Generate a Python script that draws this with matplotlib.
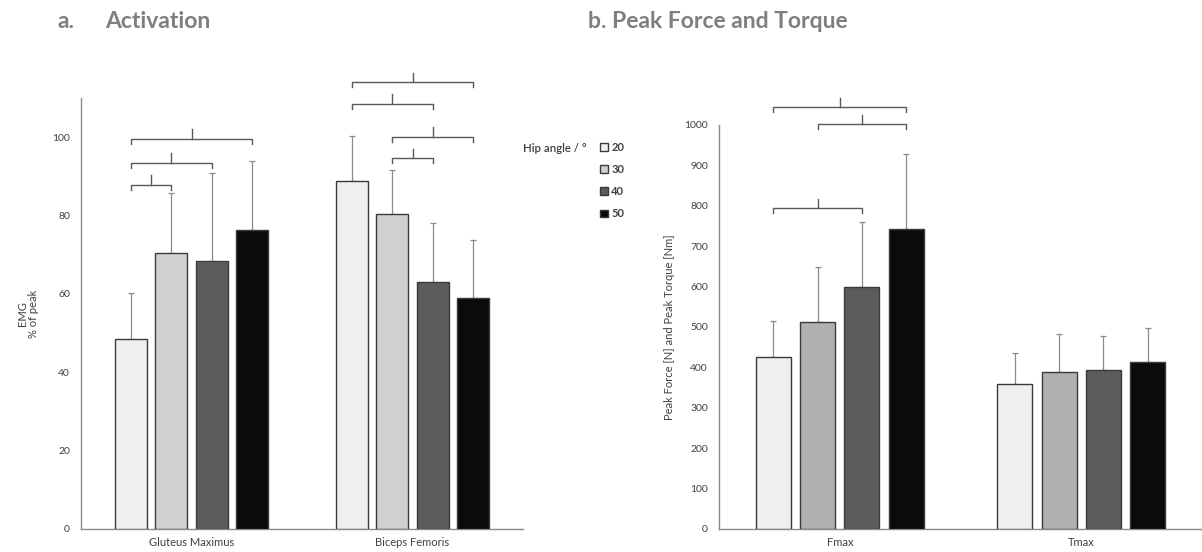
import matplotlib
matplotlib.use("Agg")
import matplotlib.pyplot as plt
import numpy as np

plt.rcParams['font.family'] = ['Lato', 'DejaVu Sans']

# ---- data ----
angles = ["20", "30", "40", "50"]
muscles = ["Gluteus Maximus", "Biceps Femoris"]
emg_gm = [48.5, 70.4, 68.4, 76.3]
emg_gm_sd = [11.7, 15.3, 22.4, 17.6]
emg_bf = [88.8, 80.4, 63.0, 58.9]
emg_bf_sd = [11.5, 11.2, 15.1, 14.8]

measures = ["Fmax", "Tmax"]
force_f = [426, 512, 599, 743]
force_f_sd = [89, 137, 161, 185]
force_t = [359, 389, 394, 413]
force_t_sd = [77, 93, 84, 84]

# significance brackets: (group, bar_from, bar_to, level)
brackets_a = [(0, 0, 1, 87.8), (0, 0, 2, 93.4), (0, 0, 3, 99.5),
              (1, 0, 3, 114.0), (1, 0, 2, 108.4), (1, 1, 3, 100.0), (1, 1, 2, 94.6)]
brackets_b = [(0, 0, 3, 1045), (0, 1, 3, 1002), (0, 0, 2, 795)]

colors_a = ["#efefef", "#d0d0d0", "#5c5c5c", "#0b0b0b"]
colors_b = ["#efefef", "#b0b0b0", "#5c5c5c", "#0b0b0b"]

W, H = 1202, 552
fig = plt.figure(figsize=(W / 100, H / 100), dpi=100)

def px(x0, y0, x1, y1):
    return [x0 / W, 1 - y1 / H, (x1 - x0) / W, (y1 - y0) / H]

axA = fig.add_axes(px(81, 98, 523, 529))
axB = fig.add_axes(px(719, 125, 1202, 529))

width = 0.145
step = 0.183
offsets = (np.arange(4) - 1.5) * step
spine_c = "#8a8a8a"
txt_c = "#404040"
fs = 7.5

def draw(ax, groups, means, sds, colors, ylim, yticks, ylabel, brackets, tick_h, end_h):
    x = np.arange(len(groups))
    bars = []
    for i in range(4):
        m = [means[g][i] for g in range(len(groups))]
        s = [sds[g][i] for g in range(len(groups))]
        b = ax.bar(x + offsets[i], m, width, color=colors[i], edgecolor="#3a3a3a",
                   linewidth=1.0, zorder=3, label=angles[i])
        ax.errorbar(x + offsets[i], m, yerr=[np.zeros(len(m)), s], fmt='none',
                    ecolor="#8a8a8a", elinewidth=0.9, capsize=2, capthick=0.9, zorder=2)
        bars.append(b)
    ax.set_xlim(-0.5, 1.5)
    ax.set_ylim(*ylim)
    ax.set_yticks(yticks)
    ax.set_xticks(x)
    ax.set_xticklabels(groups, fontsize=8, color=txt_c)
    ax.tick_params(axis='both', length=0, labelcolor=txt_c)
    ax.tick_params(axis='y', pad=8, labelsize=fs)
    ax.tick_params(axis='x', pad=6, labelsize=8)
    for sp in ["top", "right"]:
        ax.spines[sp].set_visible(False)
    for sp in ["left", "bottom"]:
        ax.spines[sp].set_color(spine_c)
        ax.spines[sp].set_linewidth(1.0)
    ax.set_ylabel(ylabel, fontsize=8, color=txt_c, linespacing=1.0)
    for g, i, j, lvl in brackets:
        xa = g + offsets[i]
        xb = g + offsets[j]
        xm = (xa + xb) / 2
        ax.plot([xa, xa, xb, xb], [lvl - end_h, lvl, lvl, lvl - end_h],
                color="#5a5a5a", lw=1.0, clip_on=False, solid_joinstyle='round')
        ax.plot([xm, xm], [lvl, lvl + tick_h], color="#5a5a5a", lw=1.0, clip_on=False)
    return bars

bars = draw(axA, muscles, [emg_gm, emg_bf], [emg_gm_sd, emg_bf_sd], colors_a,
            (0, 110), np.arange(0, 101, 20), "EMG\n% of peak", brackets_a, 2.5, 1.3)
axA.yaxis.set_label_coords(-0.095, 0.5)

draw(axB, measures, [force_f, force_t], [force_f_sd, force_t_sd], colors_b,
     (0, 1000), np.arange(0, 1001, 100), "Peak Force [N] and Peak Torque [Nm]",
     brackets_b, 22, 12)
axB.yaxis.set_label_coords(-0.091, 0.5)

# legend
fig.text(523 / W, 1 - 148 / H, "Hip angle / \u00b0", fontsize=8.2, color=txt_c,
         fontweight='semibold', va='center', ha='left')
leg = fig.legend(handles=bars, labels=angles, loc='upper left',
                 bbox_to_anchor=(600 / W, 1 - 142 / H), frameon=False,
                 fontsize=8, handlelength=0.7, handleheight=0.7, handletextpad=0.3,
                 labelspacing=1.0, borderaxespad=0, borderpad=0)
for t in leg.get_texts():
    t.set_color(txt_c)
    t.set_fontweight('bold')

# panel titles
tc = "#7f7f7f"
fig.text(58 / W, 1 - 28 / H, "a.", fontsize=16.5, fontweight='bold', color=tc, va='baseline')
fig.text(105 / W, 1 - 28 / H, "Activation", fontsize=16.5, fontweight='bold', color=tc, va='baseline')
fig.text(588 / W, 1 - 28 / H, "b. Peak Force and Torque", fontsize=16.5, fontweight='bold',
         color=tc, va='baseline')

fig.savefig("out.png", dpi=100)
